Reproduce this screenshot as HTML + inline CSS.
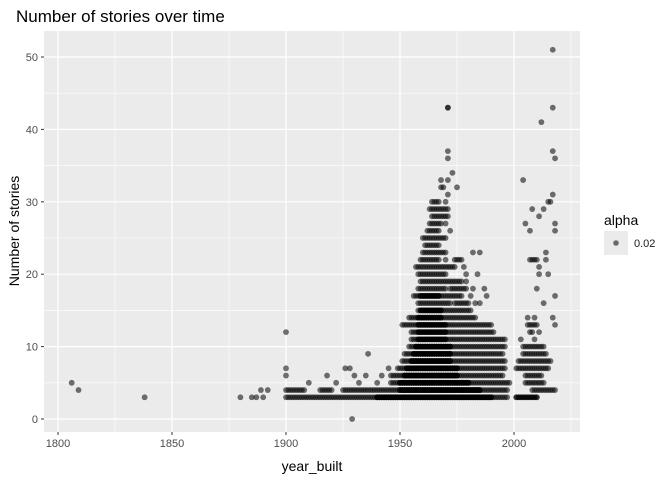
<!DOCTYPE html>
<html><head><meta charset="utf-8"><style>
body{margin:0;background:#fff;font-family:"Liberation Sans",sans-serif}
</style></head><body>
<svg id="chart" width="672" height="480">
<text x="16" y="22" font-size="17" fill="#000">Number of stories over time</text>
<rect x="44" y="31" width="536" height="401" fill="#ebebeb"/>
<g id="grid"></g><g id="pts"></g><g id="axes"></g>
<text x="312" y="471" font-size="14" text-anchor="middle">year_built</text>
<text transform="translate(19,231) rotate(-90)" font-size="14" text-anchor="middle">Number of stories</text>
<text x="604" y="225" font-size="14">alpha</text>
<rect x="604" y="231" width="24" height="24" fill="#ebebeb"/>
<circle cx="616" cy="243" r="2.8" fill="rgba(0,0,0,0.55)"/>
<text x="634" y="247" font-size="11" fill="#1a1a1a">0.02</text>
</svg>
<script>
const xTicks=[1800,1850,1900,1950,2000];
const yTicks=[0,10,20,30,40,50];
// runs: [stories, fromYear, toYear, buildingsPerYear]
const runs=[[3,1900,1997,1],[3,1940,1990,3],[3,2001,2010,2],[4,1900,1908,1],[4,1915,1920,1],[4,1925,1945,1],[4,1946,1997,1],[4,1950,1985,3],[4,2008,2018,1],[5,1946,1998,1],[5,1950,1980,3],[5,2005,2013,1],[6,1946,1995,1],[6,1952,1975,3],[6,2005,2012,1],[7,1949,1996,1],[7,1953,1975,3],[7,2001,2015,1],[8,1951,1996,1],[8,1955,1972,3],[8,2002,2016,1],[9,1952,1995,1],[9,1956,1972,3],[9,2004,2014,1],[10,1954,1996,1],[10,1957,1972,3],[10,2004,2013,1],[11,1955,1996,1],[11,1958,1970,2],[12,1955,1991,1],[12,1958,1970,2],[13,1951,1990,1],[13,1958,1970,2],[13,2006,2010,1],[14,1954,1982,1],[14,1958,1968,2],[15,1958,1980,1],[15,1959,1968,2],[16,1958,1972,1],[16,1974,1980,1],[17,1956,1977,1],[17,1959,1967,2],[18,1958,1970,1],[18,1972,1979,1],[19,1959,1977,1],[20,1958,1970,1],[21,1957,1968,1],[21,1969,1974,1],[22,1959,1967,1],[22,1974,1977,1],[22,2007,2010,1],[23,1960,1970,1],[24,1961,1967,1],[25,1960,1970,1],[26,1962,1967,1],[27,1963,1968,1],[28,1964,1971,1],[29,1963,1971,1],[30,1964,1967,1]];
const singles=[[1806,5],[1809,4],[1838,3],[1880,3],[1885,3],[1887,3],[1889,4],[1890,3],[1892,4],[1900,12],[1900,7],[1900,6],[1929,0],[1936,9],[1910,5],[1918,6],[1922,5],[1926,7],[1928,7],[1930,6],[1932,5],[1935,6],[1940,5],[1942,6],[1945,7],
[2003,11],[2009,11],[2007,12],[2008,12],[2011,12],[2018,13],[1983,14],[2006,14],[2009,14],[2017,14],[1981,15],[1983,16],[1985,16],[2013,16],[1981,17],[1988,17],[2018,17],[1982,18],[1987,18],[2010,18],[1979,19],[1979,20],[1984,20],[2011,20],[2015,20],[1978,21],[2011,21],[1970,22],[2014,22],[1982,23],[1985,23],[2014,23],[1972,26],[2007,26],[2018,26],[1970,27],[2005,27],[2018,27],[2011,28],[2008,29],[2013,29],[1970,30],[2015,30],[2016,30],[1971,31],[2017,31],[1968,32],[1969,32],[1975,32],[1968,33],[1971,33],[2004,33],[1973,34],[1971,36],[2018,36],[1971,37],[2017,37],[2012,41],[1971,43],[1971,43],[2017,43],[2017,51]];
const X=y=>58+(y-1800)*2.28, Y=s=>419-s*7.24;
const ns='http://www.w3.org/2000/svg';
function mk(t,a,p){const e=document.createElementNS(ns,t);for(const k in a)e.setAttribute(k,a[k]);p.appendChild(e);return e;}
const grid=document.getElementById('grid'),axes=document.getElementById('axes'),pts=document.getElementById('pts');
for(let v=1775;v<=2025;v+=25){const x=X(v);if(x<44||x>580)continue;const l=mk('line',{x1:x,x2:x,y1:31,y2:432,stroke:'#fff','stroke-width':v%50?0.6:1.2},grid);

}
for(let v=0;v<=55;v+=5){const y=Y(v);if(y<31)continue;const l=mk('line',{x1:44,x2:580,y1:y,y2:y,stroke:'#fff','stroke-width':v%10?0.6:1.2},grid);

}
xTicks.forEach(v=>{const x=X(v);mk('line',{x1:x,x2:x,y1:432,y2:435,stroke:'#333'},axes);
const t=mk('text',{x:x,y:447,'font-size':11,'text-anchor':'middle',fill:'#4d4d4d'},axes);t.textContent=v;

});
yTicks.forEach(v=>{const y=Y(v);mk('line',{x1:41,x2:44,y1:y,y2:y,stroke:'#333'},axes);
const t=mk('text',{x:38,y:y+4,'font-size':11,'text-anchor':'end',fill:'#4d4d4d'},axes);t.textContent=v;

});
function dot(yr,s){const c=mk('circle',{cx:X(yr),cy:Y(s),r:2.9,fill:'rgba(0,0,0,0.55)'},pts);

}
runs.forEach(([s,a,b,n])=>{for(let k=0;k<n;k++)for(let yr=a;yr<=b;yr++)dot(yr,s);});
singles.forEach(([yr,s])=>dot(yr,s));
</script>
</body></html>
